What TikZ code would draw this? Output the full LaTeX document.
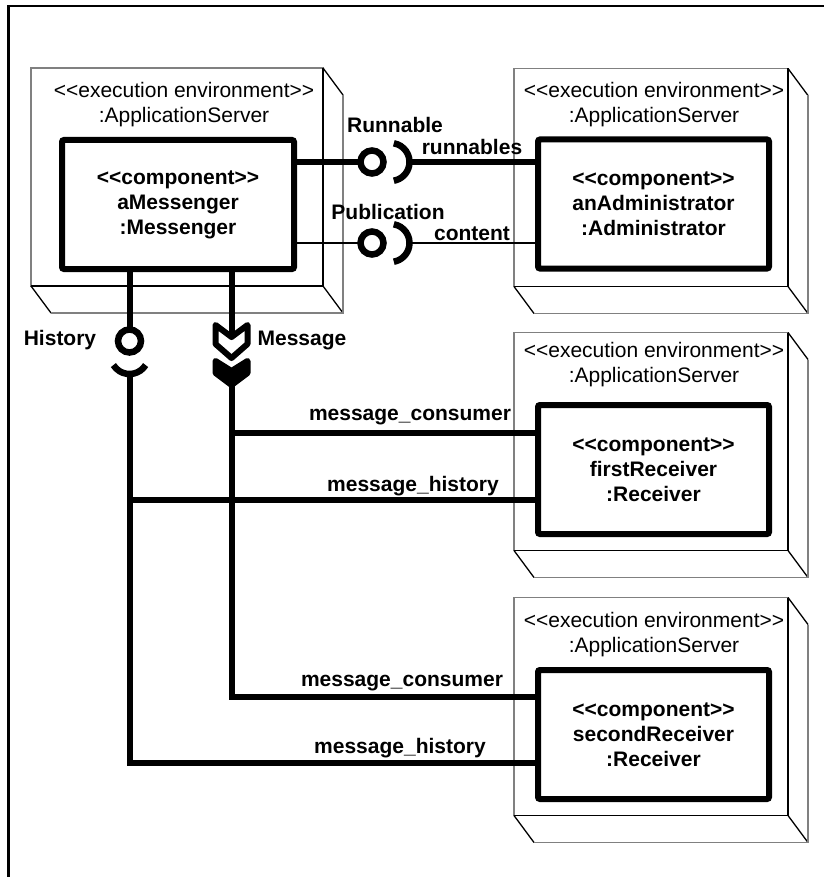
\documentclass[tikz,border=0pt]{standalone}
\usepackage{fontspec}
\setmainfont{Liberation Sans}
\usetikzlibrary{calc}
\newcommand\lguil{<\kern0pt<}
\newcommand\rguil{>\kern0pt>}
\begin{document}
\begin{tikzpicture}[x=1pt,y=-1pt,
  face/.style={draw=black!50, line width=1.3pt, inner sep=0pt, outer sep=0pt, minimum width=274pt, minimum height=218pt},
  edgedark/.style={draw=black, line width=1.3pt},
  edgegray/.style={draw=black!50, line width=1.3pt},
  envlabel/.style={align=center, font=\fontsize{21}{25}\selectfont, inner sep=0pt},
  comp/.style={draw, line width=6pt, rounded corners=2pt, fill=white, align=center, font=\fontsize{21}{25}\selectfont\bfseries, minimum width=231pt, minimum height=129pt, inner sep=0pt},
  conn/.style={line width=6pt},
  sockstroke/.style={line width=6.5pt},
  thinconn/.style={line width=1.2pt},
  ballstroke/.style={draw, line width=6.5pt, fill=white},
  lbl/.style={font=\fontsize{21}{25}\selectfont\bfseries, inner sep=0pt},
]
\useasboundingbox (0,0) rectangle (824,877);
% outer frame
\draw[line width=2.5pt] (8.5,877) -- (8.5,6) -- (824,6);

% execution environments
\node[face, minimum width=292pt] (e1) at (177,177) {};
\node[face] (e2) at (651,177.5) {};
\node[face] (e3) at (651,441.5) {};
\node[face] (e4) at (651,706.5) {};
\foreach \e in {e1,e2,e3,e4}{
  \draw[edgedark] (\e.north east) -- (\e.south east) -- (\e.south west);
  \draw[edgedark] (\e.north east) -- ++(20,27);
  \draw[edgedark] (\e.south east) -- ++(20,27);
  \draw[edgedark] (\e.south west) -- ++(20,27);
  \draw[edgegray] ($(\e.north east)+(20,27)$) -- ($(\e.south east)+(20,27)$) -- ($(\e.south west)+(20,27)$);
}
\node[envlabel] (l1) at (184,104.5) {\lguil execution environment\rguil\\:ApplicationServer};
\node[envlabel] (l2) at (654,104.5) {\lguil execution environment\rguil\\:ApplicationServer};
\node[envlabel] (l3) at (654,364.5) {\lguil execution environment\rguil\\:ApplicationServer};
\node[envlabel] (l4) at (654,634.5) {\lguil execution environment\rguil\\:ApplicationServer};

% components
\node[comp, minimum width=232pt] (c1) at (178,204.5) {\lguil component\rguil\\aMessenger\\:Messenger};
\node[comp] (c2) at (653.5,204) {\lguil component\rguil\\anAdministrator\\:Administrator};
\node[comp] (c3) at (653.5,469.5) {\lguil component\rguil\\firstReceiver\\:Receiver};
\node[comp] (c4) at (653.5,734.5) {\lguil component\rguil\\secondReceiver\\:Receiver};

% Runnable
\coordinate (rb) at (372,162);
\coordinate (rsc) at (390.5,162);
\draw[conn] (rb -| c1.east) -- ($(rb)+(-13,0)$);
\draw[ballstroke] (rb) circle[radius=11.5];
\draw[sockstroke] (rsc) ++(-80:19) arc[start angle=-80, end angle=80, radius=19];
\draw[conn] ($(rsc)+(19,0)$) -- (rsc -| c2.west);
% Publication
\coordinate (pb) at (372,243);
\coordinate (psc) at (390.5,243);
\draw[thinconn] (pb -| c1.east) -- ($(pb)+(-13,0)$);
\draw[ballstroke] (pb) circle[radius=11.5];
\draw[sockstroke] (psc) ++(-80:19) arc[start angle=-80, end angle=80, radius=19];
\draw[thinconn] ($(psc)+(19,0)$) -- (psc -| c2.west);

% History
\coordinate (hb) at (129.5,341);
\coordinate (hsc) at (129.5,355);
\coordinate (hs) at (129.5,373);
\coordinate (h1) at (129.5,500);
\coordinate (h2) at (129.5,763);
\draw[conn] (hb |- c1.south) -- ($(hb)+(0,-13)$);
\draw[ballstroke] (hb) circle[radius=11.5];
\draw[sockstroke] (hsc) ++(32:19) arc[start angle=32, end angle=148, radius=19];
\draw[conn] (hs) -- (h2) -- (h2 -| c4.west);
\draw[conn] (h1) -- (h1 -| c3.west);

% Message
\coordinate (mn) at (231.5,337);
\coordinate (ms) at (231.5,385);
\coordinate (m1) at (231.5,433);
\coordinate (m2) at (231.5,697);
\draw[conn] (mn |- c1.south) -- (mn);
\draw[conn, fill=white, line join=round] (215.5,325) -- (mn) -- (247.5,325) -- (247.5,344) -- (231.5,358) -- (215.5,344) -- cycle;
\draw[conn, fill=black, line join=round] (215.5,361) -- (231.5,371) -- (247.5,361) -- (247.5,373) -- (ms) -- (215.5,373) -- cycle;
\draw[conn] (ms) -- (m2) -- (m2 -| c4.west);
\draw[conn] (m1) -- (m1 -| c3.west);

% labels
\node[lbl] (tRunnable) at (395,125) {Runnable};
\node[lbl] (trunnables) at (472,147) {runnables};
\node[lbl] (tPublication) at (388,212) {Publication};
\node[lbl] (tcontent) at (472,234) {content};
\node[lbl] (tHistory) at (60,340) {History};
\node[lbl] (tMessage) at (302,340) {Message};
\node[lbl] (tmc1) at (410,417) {message\_consumer};
\node[lbl] (tmh1) at (413,486) {message\_history};
\node[lbl] (tmc2) at (402,683) {message\_consumer};
\node[lbl] (tmh2) at (400,748) {message\_history};
\end{tikzpicture}
\end{document}
